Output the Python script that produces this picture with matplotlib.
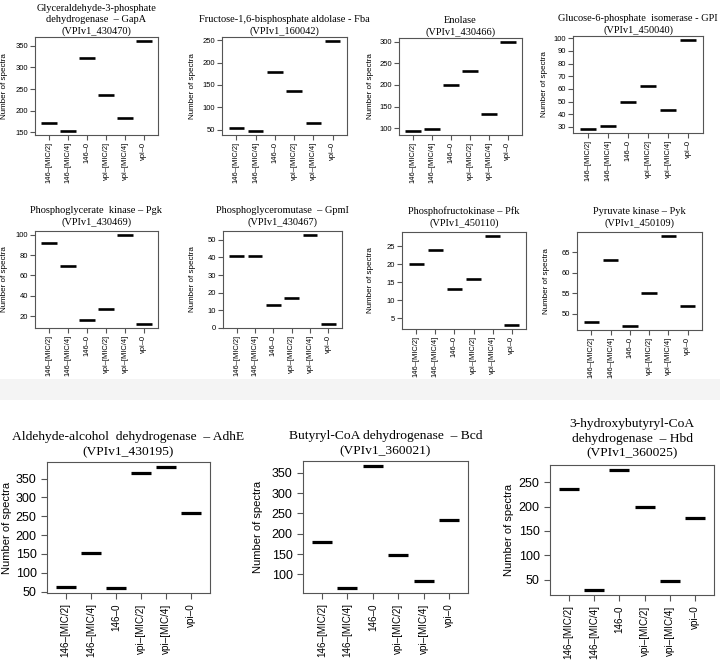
import matplotlib
matplotlib.use("Agg")
import matplotlib.pyplot as plt
from matplotlib.patches import Rectangle

# ---------------- data ----------------
categories = ["146–[MIC/2]", "146–[MIC/4]", "146–0", "vpi–[MIC/2]", "vpi–[MIC/4]", "vpi–0"]

titles = [
    "Glyceraldehyde-3-phosphate\ndehydrogenase  – GapA\n(VPIv1_430470)",
    "Fructose-1,6-bisphosphate aldolase - Fba\n(VPIv1_160042)",
    "Enolase\n(VPIv1_430466)",
    "Glucose-6-phosphate  isomerase - GPI\n(VPIv1_450040)",
    "Phosphoglycerate  kinase – Pgk\n(VPIv1_430469)",
    "Phosphoglyceromutase  – GpmI\n(VPIv1_430467)",
    "Phosphofructokinase – Pfk\n(VPIv1_450110)",
    "Pyruvate kinase – Pyk\n(VPIv1_450109)",
    "Aldehyde-alcohol  dehydrogenase  – AdhE\n(VPIv1_430195)",
    "Butyryl-CoA dehydrogenase  – Bcd\n(VPIv1_360021)",
    "3-hydroxybutyryl-CoA\ndehydrogenase  – Hbd\n(VPIv1_360025)",
]

gapA = [171, 152, 321, 236, 183, 362]
fba = [54, 46, 179, 136, 65, 249]
eno = [93, 99, 199, 233, 132, 300]
gpi = [28, 31, 50, 62, 43, 99]
pgk = [92, 69, 16, 27, 100, 12]
gpmI = [41, 41, 13, 17, 53, 2]
pfk = [20, 24, 13, 16, 28, 3]
pyk = [48, 63, 47, 55, 69, 52]
adhE = [63, 153, 59, 365, 381, 259]
bcd = [180, 66, 367, 147, 83, 233]
hbd = [236, 29, 275, 198, 48, 176]

series = [gapA, fba, eno, gpi, pgk, gpmI, pfk, pyk, adhE, bcd, hbd]

yticks_list = [
    [150, 200, 250, 300, 350],
    [50, 100, 150, 200, 250],
    [100, 150, 200, 250, 300],
    [30, 40, 50, 60, 70, 80, 90, 100],
    [20, 40, 60, 80, 100],
    [0, 10, 20, 30, 40, 50],
    [5, 10, 15, 20, 25],
    [50, 55, 60, 65],
    [50, 100, 150, 200, 250, 300, 350],
    [100, 150, 200, 250, 300, 350],
    [50, 100, 150, 200, 250],
]

# ---------------- layout (pixels: left, right, top, bottom) ----------------
W, H = 720, 663
boxes = [
    (35, 158, 37, 135), (222, 347, 37, 135), (399, 522, 38, 135), (573, 703, 36, 133),
    (35, 158, 231, 328), (223, 342, 231, 328), (402, 526, 232, 329), (577, 702, 232, 330),
    (47, 210, 462, 593), (303, 468, 461, 593), (550, 714, 465, 595),
]
ylabel_x = [5, 192, 370, 545, 5, 192, 370, 546, 7, 258, 509]
title_pad = [1.0, 1.0, 1.0, 1.0, 3.0, 3.0, 3.0, 3.0, 3.0, 3.0, 4.0]

fig = plt.figure(figsize=(W / 100, H / 100), dpi=100)
fig.patch.set_facecolor("white")
fig.patches.append(Rectangle((0, 1 - 400 / H), 1, 21 / H, transform=fig.transFigure,
                             facecolor="#f4f4f4", edgecolor="none", zorder=-10))

SANS = "Liberation Sans"
SERIF = "Liberation Serif"

for k, (vals, title, yt, box, tp, ylx) in enumerate(
        zip(series, titles, yticks_list, boxes, title_pad, ylabel_x)):
    big = k >= 8
    l, r, t, b = box
    ax = fig.add_axes([l / W, 1 - b / H, (r - l) / W, (b - t) / H])
    xs = list(range(1, len(categories) + 1))
    lw = 2.3 if big else 1.9
    ax.hlines(vals, [x - 0.4 for x in xs], [x + 0.4 for x in xs], colors="black", linewidth=lw)
    lo, hi = min(vals), max(vals)
    ext = 0.04 * (hi - lo)
    ax.set_ylim(lo - ext, hi + ext)
    ax.set_xlim(0.26, 6.74)
    ax.set_xticks(xs)
    ax.set_yticks(yt)
    tfs = 9.0 if big else 5.5
    xfs = 7.1 if big else 5.4
    ax.set_xticklabels(categories, rotation=90, fontsize=xfs, family=SANS)
    ax.set_yticklabels([str(v) for v in yt], fontsize=tfs, family=SANS)
    for s in ax.spines.values():
        s.set_color("#555555")
        s.set_linewidth(0.8)
    ax.tick_params(axis="both", direction="out", color="#555555", width=0.8,
                   length=4.5 if big else 3.5, pad=3 if big else 1.5)
    ax.set_ylabel("Number of spectra", fontsize=8.0 if big else 5.8, family=SANS,
                  va="center")
    ax.yaxis.set_label_coords((ylx - l) / (r - l), 0.5)
    ax.annotate(title, xy=(0.5, 1), xycoords="axes fraction", xytext=(0, tp),
                textcoords="offset points", ha="center", va="bottom",
                fontsize=9.7 if big else 7.5, family=SERIF,
                linespacing=1.3)

fig.savefig("out.png", dpi=100)
